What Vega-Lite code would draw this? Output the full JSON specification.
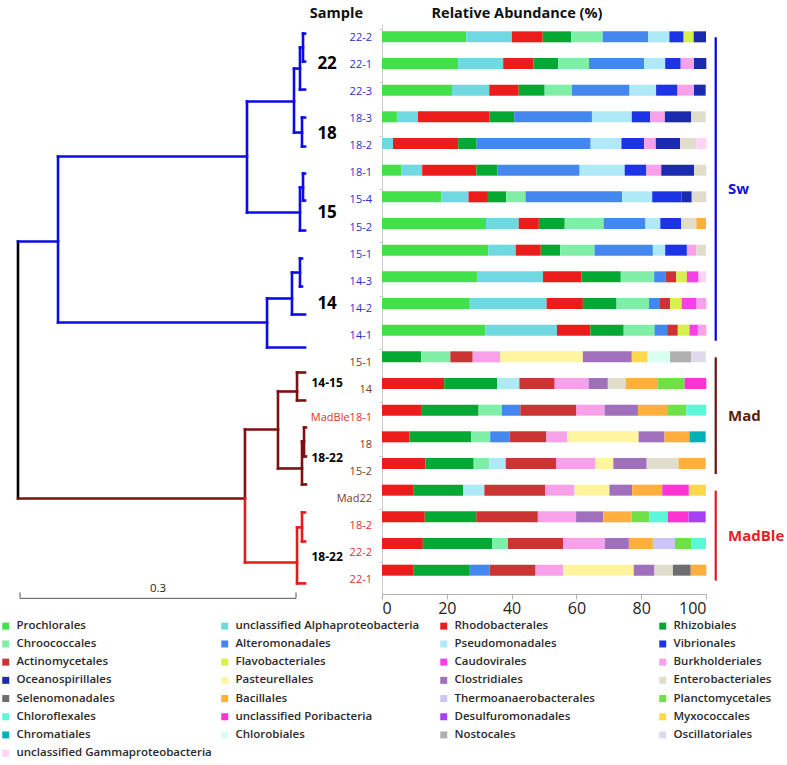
{
"$schema": "https://vega.github.io/schema/vega-lite/v6.json",
"padding": {"top": 5, "left": 0, "right": 0, "bottom": 0},
"background": "white",
"config": {"view": {"stroke": null}, "font": "Open Sans"},
"datasets": {
"cats": [
{"k":1,"name":"Prochlorales"},{"k":2,"name":"unclassified Alphaproteobacteria"},{"k":3,"name":"Rhodobacterales"},{"k":4,"name":"Rhizobiales"},
{"k":5,"name":"Chroococcales"},{"k":6,"name":"Alteromonadales"},{"k":7,"name":"Pseudomonadales"},{"k":8,"name":"Vibrionales"},
{"k":9,"name":"Actinomycetales"},{"k":10,"name":"Flavobacteriales"},{"k":11,"name":"Caudovirales"},{"k":12,"name":"Burkholderiales"},
{"k":13,"name":"Oceanospirillales"},{"k":14,"name":"Pasteurellales"},{"k":15,"name":"Clostridiales"},{"k":16,"name":"Enterobacteriales"},
{"k":17,"name":"Selenomonadales"},{"k":18,"name":"Bacillales"},{"k":19,"name":"Thermoanaerobacterales"},{"k":20,"name":"Planctomycetales"},
{"k":21,"name":"Chloroflexales"},{"k":22,"name":"unclassified Poribacteria"},{"k":23,"name":"Desulfuromonadales"},{"k":24,"name":"Myxococcales"},
{"k":25,"name":"Chromatiales"},{"k":26,"name":"Chlorobiales"},{"k":27,"name":"Nostocales"},{"k":28,"name":"Oscillatoriales"},
{"k":29,"name":"unclassified Gammaproteobacteria"}
],
"bars": [
{"r":0,"k":1,"v":26.0},{"r":0,"k":2,"v":14.1},{"r":0,"k":3,"v":9.5},{"r":0,"k":4,"v":8.8},{"r":0,"k":5,"v":9.7},{"r":0,"k":6,"v":14.0},{"r":0,"k":7,"v":6.6},{"r":0,"k":8,"v":4.4},{"r":0,"k":10,"v":3.1},{"r":0,"k":13,"v":3.8},
{"r":1,"k":1,"v":23.5},{"r":1,"k":2,"v":13.9},{"r":1,"k":3,"v":9.3},{"r":1,"k":4,"v":7.7},{"r":1,"k":5,"v":9.5},{"r":1,"k":6,"v":17.0},{"r":1,"k":7,"v":6.5},{"r":1,"k":8,"v":4.8},{"r":1,"k":12,"v":4.1},{"r":1,"k":13,"v":3.8},
{"r":2,"k":1,"v":21.6},{"r":2,"k":2,"v":11.5},{"r":2,"k":3,"v":9.1},{"r":2,"k":4,"v":8.0},{"r":2,"k":5,"v":8.4},{"r":2,"k":6,"v":17.8},{"r":2,"k":7,"v":8.2},{"r":2,"k":8,"v":6.6},{"r":2,"k":12,"v":5.1},{"r":2,"k":13,"v":3.6},
{"r":3,"k":1,"v":4.6},{"r":3,"k":2,"v":6.5},{"r":3,"k":3,"v":22.0},{"r":3,"k":4,"v":7.7},{"r":3,"k":6,"v":24.0},{"r":3,"k":7,"v":12.3},{"r":3,"k":8,"v":5.7},{"r":3,"k":12,"v":4.5},{"r":3,"k":13,"v":8.1},{"r":3,"k":16,"v":4.5},
{"r":4,"k":2,"v":3.4},{"r":4,"k":3,"v":20.1},{"r":4,"k":4,"v":5.7},{"r":4,"k":6,"v":35.2},{"r":4,"k":7,"v":9.5},{"r":4,"k":8,"v":7.0},{"r":4,"k":12,"v":3.6},{"r":4,"k":13,"v":7.5},{"r":4,"k":16,"v":5.1},{"r":4,"k":29,"v":3.0},
{"r":5,"k":1,"v":5.9},{"r":5,"k":2,"v":6.5},{"r":5,"k":3,"v":16.7},{"r":5,"k":4,"v":6.5},{"r":5,"k":6,"v":25.4},{"r":5,"k":7,"v":13.9},{"r":5,"k":8,"v":6.7},{"r":5,"k":12,"v":4.6},{"r":5,"k":13,"v":10.1},{"r":5,"k":16,"v":3.8},
{"r":6,"k":1,"v":18.3},{"r":6,"k":2,"v":8.4},{"r":6,"k":3,"v":6.0},{"r":6,"k":4,"v":5.6},{"r":6,"k":5,"v":6.0},{"r":6,"k":6,"v":29.8},{"r":6,"k":7,"v":9.3},{"r":6,"k":8,"v":9.1},{"r":6,"k":13,"v":3.1},{"r":6,"k":16,"v":4.5},
{"r":7,"k":1,"v":32.1},{"r":7,"k":2,"v":10.1},{"r":7,"k":3,"v":6.2},{"r":7,"k":4,"v":8.0},{"r":7,"k":5,"v":12.0},{"r":7,"k":6,"v":12.9},{"r":7,"k":7,"v":4.6},{"r":7,"k":8,"v":6.4},{"r":7,"k":16,"v":4.7},{"r":7,"k":18,"v":3.0},
{"r":8,"k":1,"v":32.8},{"r":8,"k":2,"v":8.5},{"r":8,"k":3,"v":7.7},{"r":8,"k":4,"v":6.0},{"r":8,"k":5,"v":10.6},{"r":8,"k":6,"v":18.0},{"r":8,"k":7,"v":3.8},{"r":8,"k":8,"v":6.7},{"r":8,"k":12,"v":2.9},{"r":8,"k":16,"v":3.0},
{"r":9,"k":1,"v":29.3},{"r":9,"k":2,"v":20.4},{"r":9,"k":3,"v":11.8},{"r":9,"k":4,"v":12.2},{"r":9,"k":5,"v":10.3},{"r":9,"k":6,"v":3.6},{"r":9,"k":9,"v":3.2},{"r":9,"k":10,"v":3.3},{"r":9,"k":11,"v":3.6},{"r":9,"k":29,"v":2.3},
{"r":10,"k":1,"v":27.1},{"r":10,"k":2,"v":23.7},{"r":10,"k":3,"v":11.2},{"r":10,"k":4,"v":10.4},{"r":10,"k":5,"v":10.0},{"r":10,"k":6,"v":3.4},{"r":10,"k":9,"v":3.1},{"r":10,"k":10,"v":3.6},{"r":10,"k":11,"v":4.6},{"r":10,"k":12,"v":3.0},
{"r":11,"k":1,"v":31.9},{"r":11,"k":2,"v":22.1},{"r":11,"k":3,"v":10.3},{"r":11,"k":4,"v":10.3},{"r":11,"k":5,"v":9.5},{"r":11,"k":6,"v":3.9},{"r":11,"k":9,"v":3.3},{"r":11,"k":10,"v":3.6},{"r":11,"k":11,"v":2.6},{"r":11,"k":12,"v":2.6},
{"r":12,"k":4,"v":12.1},{"r":12,"k":5,"v":9.0},{"r":12,"k":9,"v":6.9},{"r":12,"k":12,"v":8.5},{"r":12,"k":14,"v":25.5},{"r":12,"k":15,"v":15.1},{"r":12,"k":24,"v":4.9},{"r":12,"k":26,"v":6.9},{"r":12,"k":27,"v":6.5},{"r":12,"k":28,"v":4.5},
{"r":13,"k":3,"v":19.2},{"r":13,"k":4,"v":16.3},{"r":13,"k":7,"v":6.9},{"r":13,"k":9,"v":10.9},{"r":13,"k":12,"v":10.5},{"r":13,"k":15,"v":5.9},{"r":13,"k":16,"v":5.5},{"r":13,"k":18,"v":9.8},{"r":13,"k":20,"v":8.4},{"r":13,"k":22,"v":6.7},
{"r":14,"k":3,"v":12.3},{"r":14,"k":4,"v":17.5},{"r":14,"k":5,"v":7.2},{"r":14,"k":6,"v":5.7},{"r":14,"k":9,"v":17.3},{"r":14,"k":12,"v":8.7},{"r":14,"k":15,"v":10.3},{"r":14,"k":18,"v":9.0},{"r":14,"k":20,"v":5.9},{"r":14,"k":21,"v":6.2},
{"r":15,"k":3,"v":8.5},{"r":15,"k":4,"v":19.0},{"r":15,"k":5,"v":5.9},{"r":15,"k":6,"v":6.0},{"r":15,"k":9,"v":11.3},{"r":15,"k":12,"v":6.4},{"r":15,"k":14,"v":22.1},{"r":15,"k":15,"v":8.0},{"r":15,"k":18,"v":7.7},{"r":15,"k":25,"v":5.0},
{"r":16,"k":3,"v":13.4},{"r":16,"k":4,"v":14.9},{"r":16,"k":5,"v":4.8},{"r":16,"k":7,"v":5.1},{"r":16,"k":9,"v":15.5},{"r":16,"k":12,"v":12.2},{"r":16,"k":14,"v":5.5},{"r":16,"k":15,"v":10.3},{"r":16,"k":16,"v":9.8},{"r":16,"k":18,"v":8.4},
{"r":17,"k":3,"v":9.8},{"r":17,"k":4,"v":15.2},{"r":17,"k":7,"v":6.6},{"r":17,"k":9,"v":18.8},{"r":17,"k":12,"v":9.0},{"r":17,"k":14,"v":10.8},{"r":17,"k":15,"v":7.0},{"r":17,"k":18,"v":9.3},{"r":17,"k":22,"v":8.2},{"r":17,"k":24,"v":5.3},
{"r":18,"k":3,"v":13.2},{"r":18,"k":4,"v":15.9},{"r":18,"k":9,"v":19.0},{"r":18,"k":12,"v":11.8},{"r":18,"k":15,"v":8.4},{"r":18,"k":18,"v":8.7},{"r":18,"k":20,"v":5.5},{"r":18,"k":21,"v":5.7},{"r":18,"k":22,"v":6.4},{"r":18,"k":23,"v":5.3},
{"r":19,"k":3,"v":12.6},{"r":19,"k":4,"v":21.4},{"r":19,"k":5,"v":4.9},{"r":19,"k":9,"v":17.0},{"r":19,"k":12,"v":12.9},{"r":19,"k":15,"v":7.4},{"r":19,"k":18,"v":7.4},{"r":19,"k":19,"v":6.8},{"r":19,"k":20,"v":5.0},{"r":19,"k":21,"v":4.6},
{"r":20,"k":3,"v":9.8},{"r":20,"k":4,"v":17.3},{"r":20,"k":6,"v":6.1},{"r":20,"k":9,"v":14.2},{"r":20,"k":12,"v":8.5},{"r":20,"k":14,"v":21.8},{"r":20,"k":15,"v":6.4},{"r":20,"k":16,"v":5.7},{"r":20,"k":17,"v":5.5},{"r":20,"k":18,"v":4.8}
],
"samples": [
{"r":0,"s":"22-2","g":"Sw"},{"r":1,"s":"22-1","g":"Sw"},{"r":2,"s":"22-3","g":"Sw"},{"r":3,"s":"18-3","g":"Sw"},{"r":4,"s":"18-2","g":"Sw"},{"r":5,"s":"18-1","g":"Sw"},
{"r":6,"s":"15-4","g":"Sw"},{"r":7,"s":"15-2","g":"Sw"},{"r":8,"s":"15-1","g":"Sw"},{"r":9,"s":"14-3","g":"Sw"},{"r":10,"s":"14-2","g":"Sw"},{"r":11,"s":"14-1","g":"Sw"},
{"r":12,"s":"15-1","g":"Mad"},{"r":13,"s":"14","g":"Mad"},{"r":14,"s":"MadBle18-1","g":"MadBle"},{"r":15,"s":"18","g":"Mad"},{"r":16,"s":"15-2","g":"Mad"},
{"r":17,"s":"Mad22","g":"Mad"},{"r":18,"s":"18-2","g":"MadBle"},{"r":19,"s":"22-2","g":"MadBle"},{"r":20,"s":"22-1","g":"MadBle"}
],
"clusters": [
{"t":"22","y":0.958},{"t":"18","y":3.536},{"t":"15","y":6.446},{"t":"14","y":9.834},
{"t":"14-15","y":12.744},{"t":"18-22","y":15.507},{"t":"18-22","y":19.153}
],
"groups": [
{"g":"Sw","first":0,"last":11},{"g":"Mad","first":12,"last":16},{"g":"MadBle","first":17,"last":20}
],
"scalebar": [
{"from":0.0022,"to":0.3022,"label":"0.3"}
],
"dendro": [
{"g":"root","x":0,"y":7.514,"x2":0,"y2":16.98},
{"g":"Sw","x":0,"y":7.514,"x2":0.0435,"y2":7.514},
{"g":"Sw","x":0.0435,"y":4.383,"x2":0.0435,"y2":10.497},
{"g":"Sw","x":0.0435,"y":4.383,"x2":0.2489,"y2":4.383},
{"g":"Sw","x":0.2489,"y":2.357,"x2":0.2489,"y2":6.446},
{"g":"Sw","x":0.2489,"y":2.357,"x2":0.3,"y2":2.357},
{"g":"Sw","x":0.3,"y":1.142,"x2":0.3,"y2":3.499},
{"g":"Sw","x":0.3,"y":1.142,"x2":0.3065,"y2":1.142},
{"g":"Sw","x":0.3065,"y":0.368,"x2":0.3065,"y2":1.915},
{"g":"Sw","x":0.3065,"y":0.368,"x2":0.3098,"y2":0.368},
{"g":"Sw","x":0.3098,"y":-0.147,"x2":0.3098,"y2":0.884},
{"g":"Sw","x":0.3098,"y":-0.147,"x2":0.312,"y2":-0.147},
{"g":"Sw","x":0.3098,"y":0.884,"x2":0.312,"y2":0.884},
{"g":"Sw","x":0.3065,"y":1.915,"x2":0.312,"y2":1.915},
{"g":"Sw","x":0.3,"y":3.499,"x2":0.3087,"y2":3.499},
{"g":"Sw","x":0.3087,"y":2.947,"x2":0.3087,"y2":4.015},
{"g":"Sw","x":0.3087,"y":2.947,"x2":0.312,"y2":2.947},
{"g":"Sw","x":0.3087,"y":4.015,"x2":0.312,"y2":4.015},
{"g":"Sw","x":0.2489,"y":6.446,"x2":0.3065,"y2":6.446},
{"g":"Sw","x":0.3065,"y":5.525,"x2":0.3065,"y2":7.109},
{"g":"Sw","x":0.3065,"y":5.525,"x2":0.3098,"y2":5.525},
{"g":"Sw","x":0.3098,"y":5.009,"x2":0.3098,"y2":6.004},
{"g":"Sw","x":0.3098,"y":5.009,"x2":0.312,"y2":5.009},
{"g":"Sw","x":0.3098,"y":6.004,"x2":0.312,"y2":6.004},
{"g":"Sw","x":0.3065,"y":7.109,"x2":0.312,"y2":7.109},
{"g":"Sw","x":0.0435,"y":10.497,"x2":0.2707,"y2":10.497},
{"g":"Sw","x":0.2707,"y":9.613,"x2":0.2707,"y2":11.418},
{"g":"Sw","x":0.2707,"y":9.613,"x2":0.2978,"y2":9.613},
{"g":"Sw","x":0.2978,"y":8.656,"x2":0.2978,"y2":10.203},
{"g":"Sw","x":0.2978,"y":8.656,"x2":0.3065,"y2":8.656},
{"g":"Sw","x":0.3065,"y":8.14,"x2":0.3065,"y2":9.171},
{"g":"Sw","x":0.3065,"y":8.14,"x2":0.3087,"y2":8.14},
{"g":"Sw","x":0.3065,"y":9.171,"x2":0.3087,"y2":9.171},
{"g":"Sw","x":0.2978,"y":10.203,"x2":0.312,"y2":10.203},
{"g":"Sw","x":0.2707,"y":11.418,"x2":0.312,"y2":11.418},
{"g":"Mad","x":0,"y":16.98,"x2":0.2467,"y2":16.98},
{"g":"Mad","x":0.2467,"y":14.438,"x2":0.2467,"y2":16.98},
{"g":"Mad","x":0.2467,"y":14.438,"x2":0.2826,"y2":14.438},
{"g":"Mad","x":0.2826,"y":13.039,"x2":0.2826,"y2":15.875},
{"g":"Mad","x":0.2826,"y":13.039,"x2":0.3033,"y2":13.039},
{"g":"Mad","x":0.3033,"y":12.339,"x2":0.3033,"y2":13.37},
{"g":"Mad","x":0.3033,"y":12.339,"x2":0.312,"y2":12.339},
{"g":"Mad","x":0.3033,"y":13.37,"x2":0.312,"y2":13.37},
{"g":"Mad","x":0.2826,"y":15.875,"x2":0.3087,"y2":15.875},
{"g":"Mad","x":0.3087,"y":14.88,"x2":0.3087,"y2":16.464},
{"g":"Mad","x":0.3087,"y":14.88,"x2":0.3109,"y2":14.88},
{"g":"Mad","x":0.3109,"y":14.365,"x2":0.3109,"y2":15.433},
{"g":"Mad","x":0.3109,"y":14.365,"x2":0.313,"y2":14.365},
{"g":"Mad","x":0.3109,"y":15.433,"x2":0.313,"y2":15.433},
{"g":"Mad","x":0.3087,"y":16.464,"x2":0.313,"y2":16.464},
{"g":"MadBle","x":0.2467,"y":16.98,"x2":0.2467,"y2":19.337},
{"g":"MadBle","x":0.2467,"y":19.337,"x2":0.3033,"y2":19.337},
{"g":"MadBle","x":0.3033,"y":18.048,"x2":0.3033,"y2":20.11},
{"g":"MadBle","x":0.3033,"y":18.048,"x2":0.3087,"y2":18.048},
{"g":"MadBle","x":0.3087,"y":17.495,"x2":0.3087,"y2":18.564},
{"g":"MadBle","x":0.3087,"y":17.495,"x2":0.312,"y2":17.495},
{"g":"MadBle","x":0.3087,"y":18.564,"x2":0.312,"y2":18.564},
{"g":"MadBle","x":0.3033,"y":20.11,"x2":0.312,"y2":20.11}
]
},
"spacing": 2,
"hconcat": [
{
"width": 376, "height": 570,
"title": {"text": "Sample", "anchor": "end", "dx": -13, "fontSize": 14.5, "font": "Open Sans", "fontWeight": "bold", "offset": 3, "color": "#111111"},
"layer": [
{"data": {"name": "dendro"},
 "mark": {"type": "rule", "strokeWidth": 2.6, "strokeCap": "square"},
 "encoding": {
  "x": {"field": "x", "type": "quantitative", "scale": {"domain": [-0.01957, 0.38913], "nice": false, "zero": false}, "axis": null},
  "y": {"field": "y", "type": "quantitative", "scale": {"domain": [-0.5, 20.5], "reverse": true, "nice": false, "zero": false}, "axis": null},
  "x2": {"field": "x2"}, "y2": {"field": "y2"},
  "color": {"condition": [{"test": "datum.g==='Sw'", "value": "#0b0be6"}, {"test": "datum.g==='Mad'", "value": "#7d1010"}, {"test": "datum.g==='MadBle'", "value": "#e41b1b"}], "value": "#000000"}
 }},
{"data": {"name": "scalebar"},
 "mark": {"type": "rule", "strokeWidth": 1, "color": "#555555"},
 "encoding": {"x": {"field": "from", "type": "quantitative"}, "x2": {"field": "to"}, "y": {"datum": 20.66}}},
{"data": {"name": "scalebar"},
 "mark": {"type": "rule", "strokeWidth": 1, "color": "#555555"},
 "encoding": {"x": {"field": "from", "type": "quantitative"}, "y": {"datum": 20.44}, "y2": {"datum": 20.66}}},
{"data": {"name": "scalebar"},
 "mark": {"type": "rule", "strokeWidth": 1, "color": "#555555"},
 "encoding": {"x": {"field": "to", "type": "quantitative"}, "y": {"datum": 20.44}, "y2": {"datum": 20.66}}},
{"data": {"name": "scalebar"},
 "transform": [{"calculate": "(datum.from + datum.to) / 2", "as": "mid"}],
 "mark": {"type": "text", "fontSize": 11.5, "color": "#222222", "baseline": "middle", "align": "center"},
 "encoding": {"x": {"field": "mid", "type": "quantitative"}, "y": {"datum": 20.33}, "text": {"field": "label"}}},
{"data": {"name": "clusters"},
 "mark": {"type": "text", "fontWeight": "bold", "baseline": "middle", "align": "center", "color": "#000000"},
 "encoding": {"x": {"datum": 0.336}, "y": {"field": "y", "type": "quantitative"}, "text": {"field": "t"},
  "size": {"condition": {"test": "length(datum.t) > 2", "value": 12}, "value": 17}}},
{"data": {"name": "samples"},
 "mark": {"type": "text", "fontSize": 11, "baseline": "middle", "align": "right"},
 "encoding": {"x": {"datum": 0.3848}, "y": {"field": "r", "type": "quantitative"}, "text": {"field": "s"},
  "color": {"condition": [{"test": "datum.g==='Sw'", "value": "#2d2dc8"}, {"test": "datum.g==='Mad'", "value": "#7a3a22"}], "value": "#e03030"}}}
]
},
{
"width": 324, "height": 570,
"title": {"text": "Relative Abundance (%)", "anchor": "start", "dx": 53, "fontSize": 14.5, "font": "Open Sans", "fontWeight": "bold", "offset": 3, "color": "#111111"},
"layer": [
{"data": {"name": "bars"},
 "transform": [{"lookup": "k", "from": {"data": {"name": "cats"}, "key": "k", "fields": ["name"]}}],
 "mark": {"type": "bar", "orient": "horizontal", "height": 11, "yOffset": -5.5},
 "encoding": {
  "x": {"field": "v", "type": "quantitative", "stack": "zero", "scale": {"domain": [0, 100], "nice": false},
   "axis": {"values": [0, 20, 40, 60, 80, 100], "title": null, "grid": false, "labelFontSize": 16, "labelColor": "#222222", "labelFont": "Open Sans", "tickSize": 5, "tickColor": "#b0b0b0", "domainColor": "#b0b0b0", "labelPadding": 1}},
  "y": {"field": "r", "type": "quantitative", "scale": {"domain": [-0.5, 20.5], "reverse": true, "nice": false, "zero": false},
   "axis": {"values": [-0.5,0.5,1.5,2.5,3.5,4.5,5.5,6.5,7.5,8.5,9.5,10.5,11.5,12.5,13.5,14.5,15.5,16.5,17.5,18.5,19.5,20.5], "labels": false, "title": null, "grid": false, "tickSize": 3, "tickColor": "#cccccc", "domainColor": "#cccccc"}},
  "color": {"field": "name", "type": "nominal",
   "scale": {"domain": ["Prochlorales","unclassified Alphaproteobacteria","Rhodobacterales","Rhizobiales","Chroococcales","Alteromonadales","Pseudomonadales","Vibrionales","Actinomycetales","Flavobacteriales","Caudovirales","Burkholderiales","Oceanospirillales","Pasteurellales","Clostridiales","Enterobacteriales","Selenomonadales","Bacillales","Thermoanaerobacterales","Planctomycetales","Chloroflexales","unclassified Poribacteria","Desulfuromonadales","Myxococcales","Chromatiales","Chlorobiales","Nostocales","Oscillatoriales","unclassified Gammaproteobacteria"],
    "range": ["#42e04a","#6fd8e0","#ed1c1c","#05a833","#80eea6","#4487ef","#ade9f7","#1c34e6","#cc3333","#d6f04c","#fa3ee6","#f7a1ea","#1a2bb0","#fff5a0","#a070bd","#e0ddcd","#6e6e6e","#ffb03c","#ccc3f7","#70e048","#5cf7d8","#ff33d2","#a640f2","#ffd84a","#00b2b8","#d9fff0","#b0b0b0","#dedaec","#ffd2f8"]},
   "legend": {"title": null, "orient": "none", "legendX": 0, "legendY": 596, "columns": 4, "direction": "horizontal", "gridAlign": "all", "symbolType": "square", "symbolSize": 49, "symbolStrokeWidth": 0, "symbolOpacity": 1, "labelFont": "Open Sans", "labelFontSize": 11.5, "labelFontWeight": 600, "labelColor": "#2a2a2a", "labelLimit": 400, "columnPadding": 7, "rowPadding": 5.2, "labelOffset": 5, "padding": 0}},
  "order": {"field": "k", "type": "quantitative"}
 }},
{"data": {"name": "groups"},
 "mark": {"type": "rule", "strokeWidth": 2.2, "yOffset": -5, "y2Offset": 5},
 "encoding": {"x": {"datum": 103}, "y": {"field": "first", "type": "quantitative", "title": null}, "y2": {"field": "last"},
  "color": {"condition": [{"test": "datum.g==='Sw'", "value": "#0000dd"}, {"test": "datum.g==='Mad'", "value": "#6b1010"}], "value": "#e8141e"}}},
{"data": {"name": "groups"},
 "transform": [{"calculate": "(datum.first + datum.last) / 2", "as": "mid"}],
 "mark": {"type": "text", "align": "left", "baseline": "middle", "fontSize": 15, "fontWeight": "bold"},
 "encoding": {"x": {"datum": 106.8}, "y": {"field": "mid", "type": "quantitative", "title": null}, "text": {"field": "g"},
  "color": {"condition": [{"test": "datum.g==='Sw'", "value": "#1414d2"}, {"test": "datum.g==='Mad'", "value": "#5a1e0a"}], "value": "#e81e28"}}}
]
}
]
}
